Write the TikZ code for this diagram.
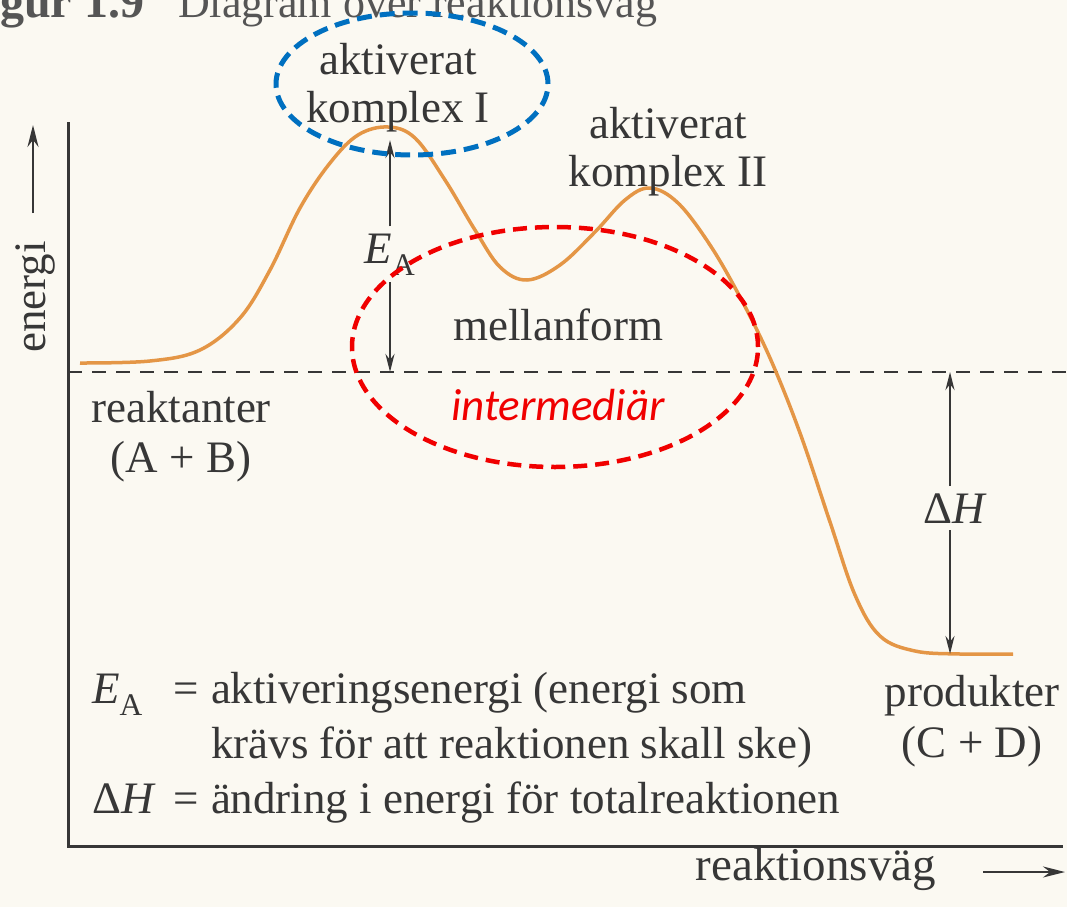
\documentclass[tikz,border=0pt]{standalone}
\usepackage{fontspec}
\setmainfont{Liberation Serif}
\newfontfamily\carlito{Carlito}
\usetikzlibrary{arrows.meta}
\definecolor{paper}{RGB}{251,249,242}
\definecolor{ink}{RGB}{55,55,55}
\definecolor{pathcol}{RGB}{228,150,70}
\definecolor{ringblue}{RGB}{0,112,192}
\definecolor{ringred}{RGB}{240,0,0}
\tikzset{
  lbl/.style={text=ink, inner sep=0pt, align=center, font=\fontsize{45}{48}\selectfont},
  axis/.style={draw=ink, line width=3pt},
  axarrow/.style={draw=ink, line width=2.4pt, -{Stealth[length=22pt,width=11pt]}},
  dimarrow/.style={draw=ink, line width=2.4pt, -{Stealth[length=18pt,width=9pt]}},
  level/.style={draw=ink, line width=2pt, dash pattern=on 14pt off 10pt},
  energy/.style={draw=pathcol, line width=3.5pt},
  ring/.style={line width=5pt, dash pattern=on 15pt off 8pt}
}

\begin{document}
\begin{tikzpicture}[x=1pt, y=-1pt]
  \fill[paper] (0,0) rectangle (1067,907);
  \clip (0,0) rectangle (1067,907);

  \node[lbl, anchor=base west, text=ink!85, font=\fontsize{44}{48}\selectfont] (title) at (0,18)
    {{\fontsize{48}{48}\selectfont\bfseries gur 1.9}\hspace{34pt}Diagram över reaktionsväg};

  % axes
  \coordinate (ytop) at (68,122);
  \coordinate (orig) at (68,846);
  \coordinate (xend) at (1063,846);
  \draw[axis] (ytop) -- (orig) -- (xend);
  \coordinate (ytail) at (33,213);
  \coordinate (yhead) at (33,125);
  \draw[axarrow] (ytail) -- (yhead);
  \node[lbl, rotate=90] (ylbl) at (35,297) {energi};
  \coordinate (xtail) at (983,872);
  \coordinate (xhead) at (1065,872);
  \draw[axarrow] (xtail) -- (xhead);
  \node[lbl, anchor=base, font=\fontsize{47}{48}\selectfont] (xlbl) at (816,880) {reaktionsväg};

  % reactant level
  \coordinate (lvlL) at (68,372);
  \coordinate (lvlR) at (1067,372);
  \draw[level] (lvlL) -- (lvlR);

  \draw[energy] plot[smooth, tension=0.6] coordinates {
    (80,363) (150,361) (200,350) (240,318) (270,270) (300,208) (330,163)
    (358,135) (388,127) (415,138) (445,180) (475,230) (500,267) (527,280)
    (560,265) (595,232) (625,200) (650,188) (678,203) (710,245) (740,297)
    (770,358) (800,433) (830,522) (855,595) (880,636) (915,651) (960,654)
    (1013,654)};

  % activation energy and enthalpy
  \coordinate (peakI) at (390,140);
  \coordinate (reacEA) at (390,372);
  \node[lbl, anchor=base, inner sep=7pt] (ea) at (390,263) {\textit{E}\textsubscript{A}};
  \draw[dimarrow] (ea.north -| peakI) -- (peakI);
  \draw[dimarrow] (ea.south -| reacEA) -- (reacEA);
  \coordinate (reacDH) at (950,372);
  \coordinate (prodDH) at (950,654);
  \node[lbl, anchor=base, inner sep=7pt] (dh) at (955,523) {Δ\textit{H}};
  \draw[dimarrow] (dh.north -| reacDH) -- (reacDH);
  \draw[dimarrow] (dh.south -| prodDH) -- (prodDH);

  \node[lbl, anchor=base] (kompI) at (398,122) {aktiverat\\komplex I};
  \node[lbl, anchor=base] (kompII) at (668,186) {aktiverat\\komplex II};
  \node[lbl, anchor=base] (mellan) at (558,340) {mellanform};
  \node[lbl, anchor=base, text=ringred, font=\carlito\itshape\fontsize{45}{48}\selectfont] (inter) at (558,420) {intermediär};
  \node[lbl, anchor=base, font=\fontsize{45}{50}\selectfont] (reakt) at (181,472) {reaktanter\\(A + B)};
  \node[lbl, anchor=base, font=\fontsize{45}{51}\selectfont] (prod) at (972,757) {produkter\\(C + D)};

  \node[lbl, anchor=base west, align=left, font=\fontsize{45}{55}\selectfont] (legend) at (92,703)
    {\begin{tabular}[t]{@{}l@{\hspace{18pt}}l@{\hspace{12pt}}l@{}}
      \textit{E}\textsubscript{A} & = & aktiveringsenergi (energi som\\
       & & krävs för att reaktionen skall ske)\\
      Δ\textit{H} & = & ändring i energi för totalreaktionen
    \end{tabular}};

  % highlights
  \draw[ring, draw=ringblue] (412,84) ellipse [x radius=136pt, y radius=71pt];
  \draw[ring, draw=ringred, line width=4.5pt, dash pattern=on 14pt off 8pt] (555,347) ellipse [x radius=203pt, y radius=120pt];
\end{tikzpicture}
\end{document}
